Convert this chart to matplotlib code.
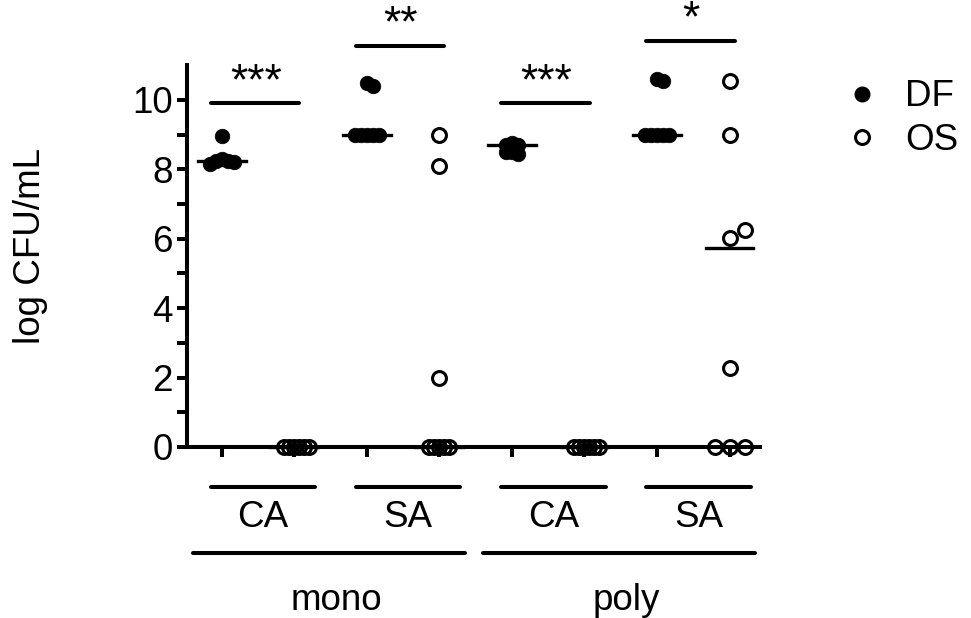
import numpy as np
import matplotlib.pyplot as plt
from matplotlib.lines import Line2D

plt.rcParams['font.family'] = ['Liberation Sans', 'DejaVu Sans']

# log CFU/mL (order: DF mono CA, OS mono CA, DF mono SA, ...)
df_mono_ca = [8.95, 8.3, 8.25, 8.25, 8.2, 8.15]
os_mono_ca = [0, 0, 0, 0, 0, 0]
df_mono_sa = [10.49, 10.4, 9.0, 9.0, 9.0, 9.0, 9.0]
os_mono_sa = [9.0, 8.1, 2.0, 0, 0, 0, 0, 0]
df_poly_ca = [8.75, 8.7, 8.7, 8.5, 8.45, 8.5]
os_poly_ca = [0, 0, 0, 0, 0, 0]
df_poly_sa = [10.6, 10.55, 9.0, 9.0, 9.0, 9.0, 9.0]
os_poly_sa = [10.55, 9.0, 6.02, 6.25, 2.28, 0, 0, 0]
centre_lines = [8.25, 0, 9.0, 0, 8.7, 0, 9.0, 5.73]

groups = [df_mono_ca, os_mono_ca, df_mono_sa, os_mono_sa,
          df_poly_ca, os_poly_ca, df_poly_sa, os_poly_sa]
kinds = ['DF', 'OS'] * 4
species = ['CA', 'SA', 'CA', 'SA']
culture = ['mono', 'poly']
sig_labels = ['***', '**', '***', '*']
sig_heights = [9.9, 11.55, 9.9, 11.7]

FS = 26.5
LW = 2.9

fig = plt.figure(figsize=(9.71, 6.18), dpi=100)
ax = fig.add_axes([187 / 971, 0, 573 / 971, 1])
ax.set_xlim(-0.48, 7.42)
ax.set_ylim(-4.93, 12.88)

# pixels per data unit, used for the swarm spreading
XPX = 573 / (7.42 + 0.48)
YPX = 618 / (12.88 + 4.93)


def swarm(vals, centre, step_px):
    placed = []
    for v in vals:
        k = 0
        while True:
            off = ((k + 1) // 2) * (1 if k % 2 else -1) * step_px
            x = centre + off / XPX
            if all(np.hypot((x - px) * XPX, (v - py) * YPX) >= step_px * 0.99
                   for px, py in placed):
                break
            k += 1
        placed.append((x, v))
    return [p[0] for p in placed]


steps = [6, 5, 6, 5, 6, 5, 6, 15]
for i, vals in enumerate(groups):
    xs = swarm(vals, i, steps[i])
    if kinds[i] == 'DF':
        ax.plot(xs, vals, 'o', ms=10.5, color='black', mew=0.5, zorder=3, clip_on=False)
    else:
        ax.plot(xs, vals, 'o', ms=10, mfc='none', mec='black', mew=2.2, zorder=3, clip_on=False)
    ax.plot([i - 0.33, i + 0.33], [centre_lines[i]] * 2, color='black', lw=2.4, zorder=2)

# axes styling
for s in ['top', 'right']:
    ax.spines[s].set_visible(False)
ax.spines['left'].set_bounds(0, 11)
ax.spines['bottom'].set_position(('data', 0))
ax.spines['bottom'].set_bounds(-0.48, 7.42)
for s in ['left', 'bottom']:
    ax.spines[s].set_linewidth(LW)
    ax.spines[s].set_zorder(4)
ax.set_yticks(range(0, 11, 2))
ax.set_yticks(range(1, 11, 2), minor=True)
ax.set_xticks(range(8))
ax.set_xticklabels([])
ax.tick_params(axis='both', which='both', length=7.5, width=LW, direction='out')
ax.tick_params(axis='y', labelsize=FS, pad=3)

fig.text(30 / 971, 1 - 246 / 618, 'log CFU/mL', rotation=90, fontsize=FS,
         ha='center', va='center')

# significance bars
for j in range(4):
    c = 2 * j + 0.5
    h = sig_heights[j]
    ax.plot([c - 0.65, c + 0.57], [h, h], color='black', lw=LW,
            solid_capstyle='round', clip_on=False)
    ax.text(c - 0.03, h + 0.27, sig_labels[j], fontsize=32, ha='center', va='baseline')

# species / culture labels under the axis
for j in range(4):
    c = 2 * j + 0.5
    ax.plot([c - 0.65, c + 0.79], [-1.15, -1.15], color='black', lw=LW,
            solid_capstyle='round', clip_on=False)
    ax.text(c + 0.07, -2.31, species[j], fontsize=FS, ha='center', va='baseline')
for j in range(2):
    c = 4 * j + 1.5
    ax.plot([c - 1.9, c + 1.85], [-3.05, -3.05], color='black', lw=LW,
            solid_capstyle='round', clip_on=False)
    ax.text(c + 0.08, -4.7, culture[j], fontsize=FS, ha='center', va='baseline')

handles = [Line2D([], [], ls='', marker='o', ms=10.5, color='black'),
           Line2D([], [], ls='', marker='o', ms=10, mfc='none', mec='black', mew=2.2)]
fig.legend(handles, ['DF', 'OS'], loc='upper left', bbox_to_anchor=(822 / 971, 1 - 61 / 618),
           frameon=False, fontsize=FS, borderpad=0, handletextpad=0.55, labelspacing=0.22,
           handlelength=1.2)

fig.savefig('out.png', dpi=100)
